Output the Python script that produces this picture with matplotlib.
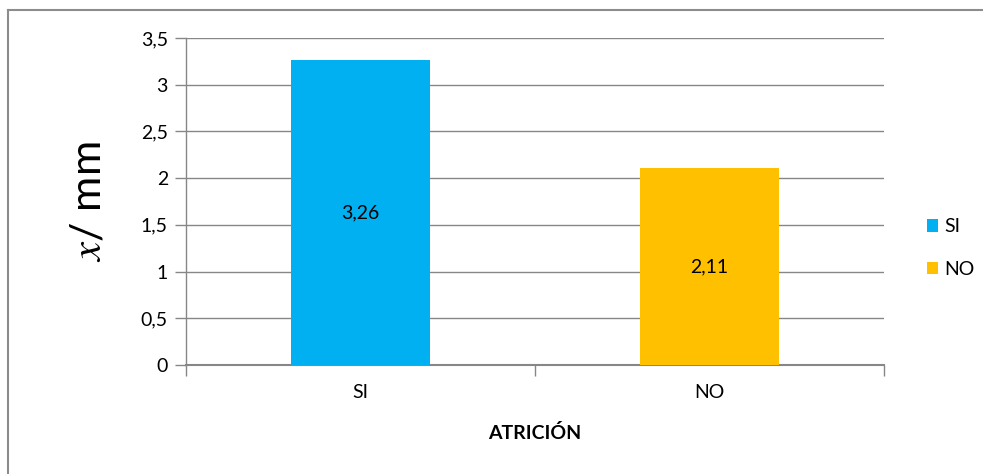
import matplotlib
matplotlib.use("Agg")
import matplotlib.pyplot as plt
from matplotlib.ticker import FuncFormatter, FixedLocator
from matplotlib.lines import Line2D
from matplotlib.patches import Patch

categories = ["SI", "NO"]
values = [3.26, 2.11]
colors = ["#00B0F0", "#FFC000"]
yticks = [0, 0.5, 1, 1.5, 2, 2.5, 3, 3.5]

plt.rcParams["font.family"] = ["Lato", "DejaVu Sans"]
plt.rcParams["mathtext.fontset"] = "stix"

fig = plt.figure(figsize=(9.83, 4.74), dpi=100)
ax = fig.add_axes([0.1892, 0.2300, 0.7101, 0.6899])

grid_c = "#878787"
fs = 14
x = list(range(len(categories)))
bars = ax.bar(x, values, width=0.4, color=colors, zorder=3)

def comma(v, pos=None):
    s = f"{v:g}"
    return s.replace(".", ",")

for b, v in zip(bars, values):
    ax.text(b.get_x() + b.get_width() / 2, v / 2, f"{v:.2f}".replace(".", ","),
            ha="center", va="center", fontsize=fs, color="black", zorder=4)

ax.set_xlim(-0.5, len(categories) - 0.5)
ax.set_ylim(0, 3.5)
ax.yaxis.set_major_locator(FixedLocator(yticks))
ax.yaxis.set_major_formatter(FuncFormatter(comma))
ax.set_xticks(x)
ax.set_xticklabels(categories)
ax.xaxis.set_minor_locator(FixedLocator([-0.5 + i for i in range(len(categories) + 1)]))
ax.tick_params(axis="x", which="major", length=0, pad=14, labelsize=fs)
ax.tick_params(axis="x", which="minor", length=8, width=1, color=grid_c, direction="out")
ax.tick_params(axis="y", length=8, width=1, color=grid_c, direction="out", pad=5, labelsize=fs)

ax.grid(axis="y", color=grid_c, linewidth=1, zorder=0)
for side in ["top", "right"]:
    ax.spines[side].set_visible(False)
ax.spines["left"].set_color(grid_c)
ax.spines["bottom"].set_color(grid_c)
ax.spines["left"].set_linewidth(1)
ax.spines["bottom"].set_linewidth(1.5)

ax.set_xlabel("ATRICIÓN", fontsize=fs, fontweight="bold", labelpad=16)
ax.set_ylabel(r"$x$/ mm", fontsize=31, labelpad=24)

handles = [Patch(facecolor=c, edgecolor="none") for c in colors]
fig.legend(handles, categories, loc="center left", bbox_to_anchor=(0.925, 0.477),
           frameon=False, fontsize=fs, handlelength=0.6, handleheight=0.6,
           handletextpad=0.3, labelspacing=1.3)

# outer frame (top and left edges)
fig.add_artist(Line2D([8 / 983, 1.0], [1 - 10 / 474, 1 - 10 / 474], color="#8c8c8c",
                      linewidth=1.5, transform=fig.transFigure))
fig.add_artist(Line2D([8 / 983, 8 / 983], [0.0, 1 - 10 / 474], color="#8c8c8c",
                      linewidth=1.5, transform=fig.transFigure))

fig.savefig("out.png", dpi=100)
